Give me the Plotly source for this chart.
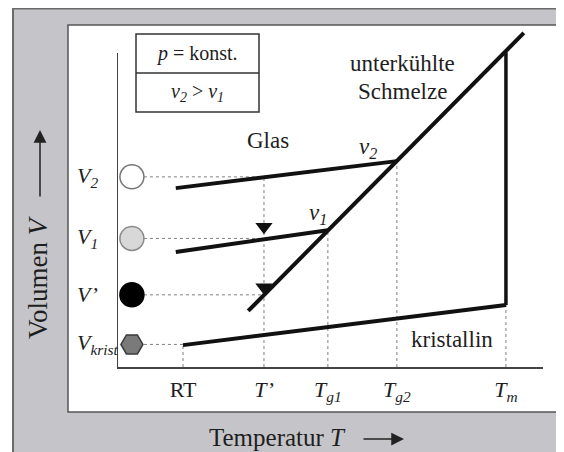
import plotly.graph_objects as go

# ---------------- data (arbitrary units: T 0..100, V 0..100) ----------------
tick_T = [15.5, 34.5, 49.5, 65.7, 91.3]
tick_text = ["RT", "<i>T’</i>", "<i>T</i><sub><i>g1</i></sub>",
             "<i>T</i><sub><i>g2</i></sub>", "<i>T</i><sub><i>m</i></sub>"]

V_levels = [55.6, 37.6, 21.1, 6.6]          # V2, V1, V', V_krist
V_labels = ["<i>V</i><sub><i>2</i></sub>", "<i>V</i><sub><i>1</i></sub>",
            "<i>V’</i>", "<i>V</i><sub><i>krist</i></sub>"]
V_targets_T = [34.5, 34.5, 34.5, 15.5]      # where the dotted level lines end
marker_T = 3.5

glass_v2_T = [13.8, 65.7]
glass_v2_V = [52.3, 60.2]
glass_v1_T = [13.8, 49.5]
glass_v1_V = [33.6, 40.0]
liquid_T = [30.8, 95.5]
liquid_V = [16.4, 97.7]
crystal_T = [15.5, 91.3]
crystal_V = [6.4, 18.1]
melt_T = [91.3, 91.3]
melt_V = [18.1, 92.0]

vert_T = [15.5, 34.5, 49.5, 65.7, 91.3]
vert_top_V = [6.4, 55.6, 40.0, 60.2, 18.1]

arrow_T = [34.5, 34.5]
arrow_V = [41.0, 23.3]

yaxis_top = 91.8

# ---------------- layout helpers ----------------
# The page body has an 8px margin, so the figure is drawn 8px smaller and
# all positions below are given in window pixels.
OFF = 8
W, H = 564 - OFF, 452 - OFF
L, R, T, B = 117, 543, 25, 367          # plot area in window pixels
def pxx(x):
    return (x - L) / (R - L)
def pxy(y):
    return (B - y) / (B - T)

FONT = "Liberation Serif"
TXT = "#1e1e1e"
DOT = "#808080"

fig = go.Figure()

# dotted guide lines
for tv, top in zip(vert_T, vert_top_V):
    fig.add_trace(go.Scatter(x=[tv, tv], y=[0, top], mode="lines",
                             line=dict(color=DOT, width=1, dash="dot"),
                             hoverinfo="skip", showlegend=False))
for v, tt in zip(V_levels, V_targets_T):
    fig.add_trace(go.Scatter(x=[marker_T, tt], y=[v, v], mode="lines",
                             line=dict(color=DOT, width=1, dash="dot"),
                             hoverinfo="skip", showlegend=False))

# y axis line
fig.add_trace(go.Scatter(x=[0, 0], y=[0, yaxis_top], mode="lines",
                         line=dict(color="#444", width=2),
                         hoverinfo="skip", showlegend=False))

# main curves
for xs, ys, w in [(glass_v2_T, glass_v2_V, 4), (glass_v1_T, glass_v1_V, 4),
                  (liquid_T, liquid_V, 4), (crystal_T, crystal_V, 4),
                  (melt_T, melt_V, 3.5)]:
    fig.add_trace(go.Scatter(x=xs, y=ys, mode="lines",
                             line=dict(color="#111", width=w),
                             hoverinfo="skip", showlegend=False))

# arrows at T'
fig.add_trace(go.Scatter(x=arrow_T, y=arrow_V, mode="markers",
                         marker=dict(symbol="triangle-down", size=15, color="#111",
                                     line=dict(width=0)),
                         hoverinfo="skip", showlegend=False))

# level markers
fig.add_trace(go.Scatter(
    x=[marker_T] * 4, y=V_levels, mode="markers", cliponaxis=False,
    marker=dict(symbol=["circle", "circle", "circle", "hexagon2"],
                size=[24, 24, 24, 22], opacity=1,
                color=["#ffffff", "#d8d8d8", "#000000", "#7a7a7a"],
                line=dict(color=["#777777", "#8a8a8a", "#000000", "#3a3a3a"], width=1.5)),
    hoverinfo="skip", showlegend=False))

# V labels
for v, lab in zip(V_levels, V_labels):
    fig.add_annotation(x=pxx(75), y=v, xref="paper", yref="y", text=lab,
                       showarrow=False, xanchor="left", yanchor="middle",
                       font=dict(family=FONT, size=22, color=TXT))

shapes = [
    dict(type="rect", xref="paper", yref="paper", layer="below",
         x0=pxx(13), x1=pxx(590), y0=pxy(8.5), y1=pxy(480),
         fillcolor="#c5c5c9", line=dict(color="#6a6a6a", width=2)),
    dict(type="rect", xref="paper", yref="paper", layer="below",
         x0=pxx(68), x1=pxx(560), y0=pxy(25), y1=pxy(412),
         fillcolor="#ffffff", line=dict(color="#555", width=1.5)),
    dict(type="rect", xref="paper", yref="paper",
         x0=pxx(136), x1=pxx(259), y0=pxy(34), y1=pxy(112),
         fillcolor="rgba(0,0,0,0)", line=dict(color="#333", width=1.5)),
    dict(type="line", xref="paper", yref="paper",
         x0=pxx(136), x1=pxx(259), y0=pxy(73), y1=pxy(73),
         line=dict(color="#333", width=1.5)),
]

def txt(x, y, s, size=23):
    fig.add_annotation(x=pxx(x), y=pxy(y), xref="paper", yref="paper", text=s,
                       showarrow=False, xanchor="center", yanchor="middle",
                       font=dict(family=FONT, size=size, color=TXT))

txt(197, 54, "<i>p</i> = konst.", 20)
txt(197, 92, "<i>v</i><sub><i>2</i></sub> &gt; <i>v</i><sub><i>1</i></sub>", 20)
txt(268, 140, "Glas")
txt(368, 148, "<i>v</i><sub><i>2</i></sub>")
txt(318, 214, "<i>v</i><sub><i>1</i></sub>")
txt(402, 63, "unterkühlte")
txt(402, 91, "Schmelze")
txt(452, 339, "kristallin")

# axis titles
fig.add_annotation(x=pxx(207), y=pxy(438), xref="paper", yref="paper",
                   text="Temperatur <i>T</i>", showarrow=False,
                   xanchor="left", yanchor="middle",
                   font=dict(family=FONT, size=25, color=TXT))
fig.add_annotation(x=pxx(404), y=pxy(439), ax=-42, ay=0,
                   xref="paper", yref="paper", axref="pixel", ayref="pixel",
                   text="", showarrow=True, arrowhead=2, arrowsize=1.7,
                   arrowwidth=1.5, arrowcolor="#222")
fig.add_annotation(x=pxx(38), y=pxy(341), xref="paper", yref="paper",
                   text="Volumen <i>V</i>", showarrow=False, textangle=-90,
                   xanchor="center", yanchor="bottom",
                   font=dict(family=FONT, size=27, color=TXT))
fig.add_annotation(x=pxx(40), y=pxy(130), ax=0, ay=68,
                   xref="paper", yref="paper", axref="pixel", ayref="pixel",
                   text="", showarrow=True, arrowhead=2, arrowsize=1.7,
                   arrowwidth=1.5, arrowcolor="#222")

fig.update_layout(
    width=W, height=H,
    margin=dict(l=L - OFF, r=(564 - R), t=T - OFF, b=(452 - B), pad=0),
    paper_bgcolor="#ffffff", plot_bgcolor="rgba(0,0,0,0)",
    shapes=shapes, showlegend=False,
    xaxis=dict(range=[0, 100], showgrid=False, zeroline=False,
               showline=True, linecolor="#444", linewidth=2,
               tickmode="array", tickvals=tick_T, ticktext=tick_text,
               ticks="", ticklabelstandoff=2,
               tickfont=dict(family=FONT, size=22, color=TXT), fixedrange=True),
    yaxis=dict(range=[0, 100], showgrid=False, zeroline=False,
               showline=False, showticklabels=False, ticks="", fixedrange=True),
)

fig.write_html("out.html")
